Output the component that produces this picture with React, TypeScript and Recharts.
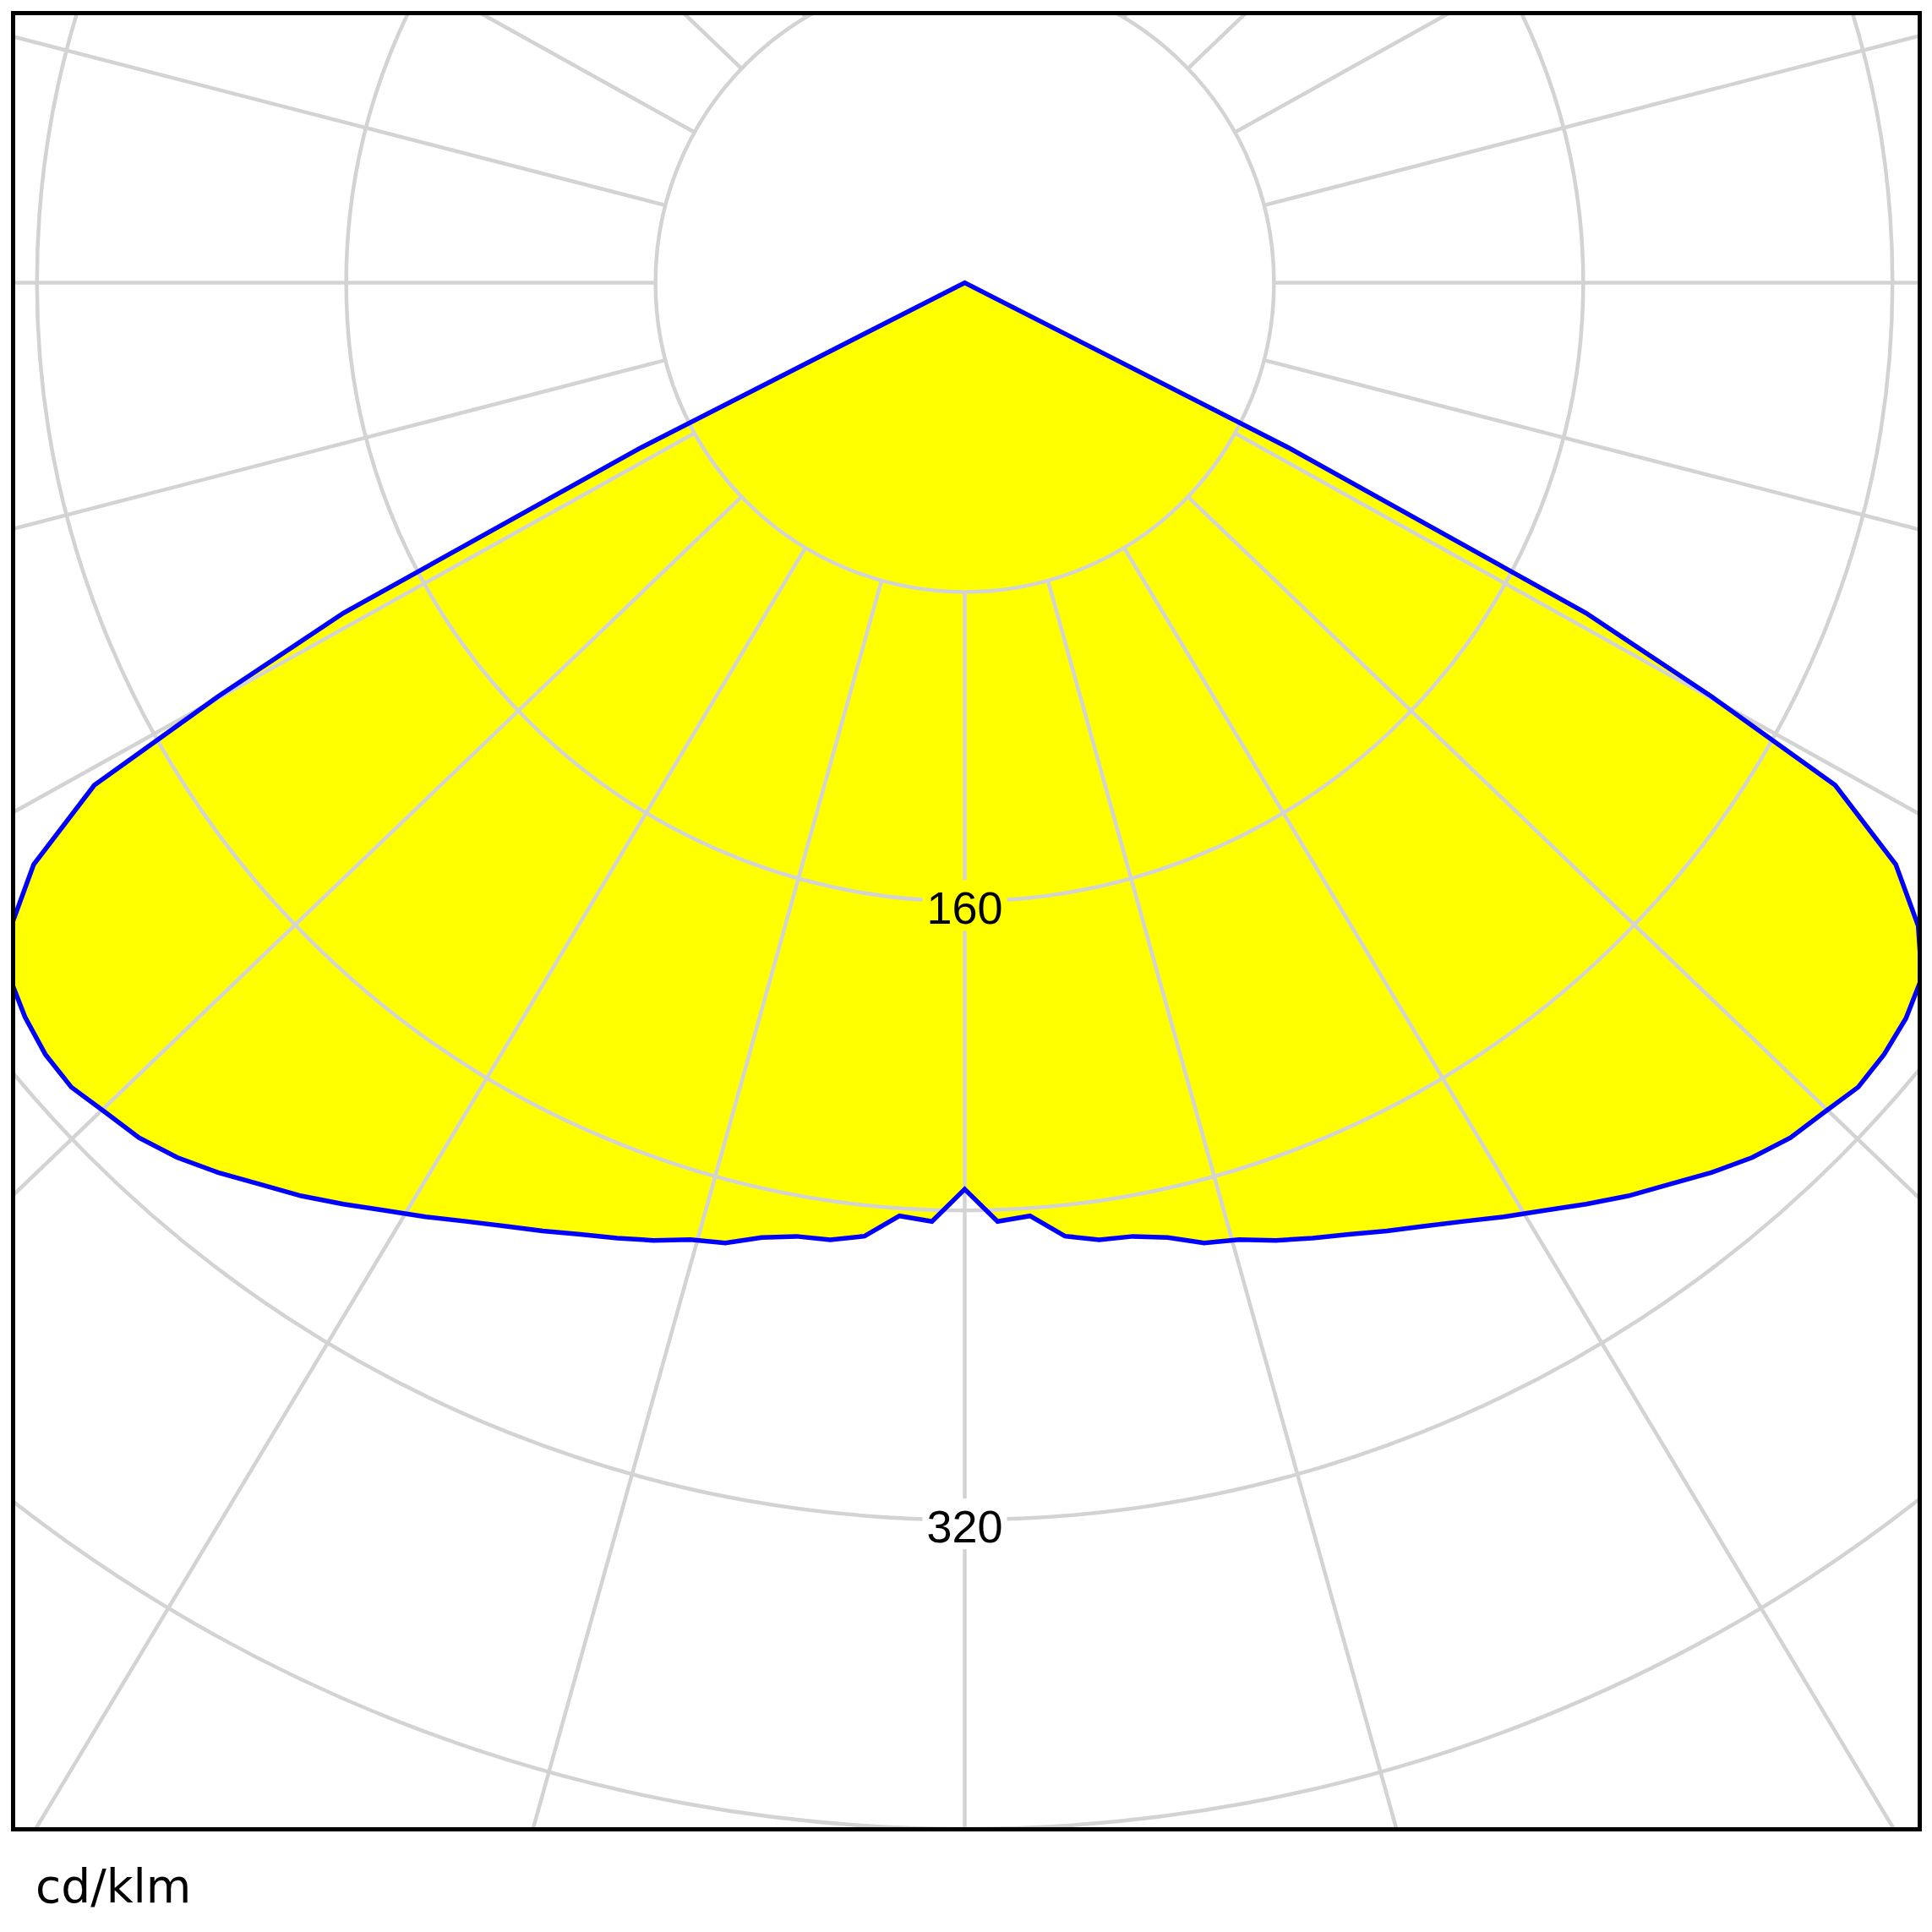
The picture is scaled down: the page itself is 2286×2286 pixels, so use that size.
import { RadarChart, Radar, PolarGrid, PolarAngleAxis, PolarRadiusAxis } from "recharts";

// gamma angles measured from nadir (deg)
const gammaAngles = [
  0, 2, 4, 6, 8, 10, 12, 14, 16, 18, 20, 22, 24, 26, 28, 30, 32, 34, 36, 38,
  40, 42, 44, 46, 48, 50, 52, 54, 56, 58, 60, 61, 62, 63, 64,
];
// C0 plane (right half), cd/klm
const c0Values = [
  234.5, 243, 242, 248, 250, 250.5, 252.5, 256, 257.5, 260.5, 263, 265.5, 268.5,
  271.5, 275, 279, 283, 287.5, 292, 296, 300.5, 304.5, 307.5, 309, 311, 310.5,
  309, 306, 297.5, 284, 260, 221, 182, 94, 0,
];
// C180 plane (left half), cd/klm
const c180Values = [
  234.5, 243, 242, 248, 250, 250.5, 252.5, 256, 257.5, 260.5, 263, 265.5, 268.5,
  271.5, 275, 279, 283, 287.5, 292, 296, 300.5, 304.5, 307.5, 309, 311, 310.5,
  308.5, 305.5, 297.5, 284, 260, 221, 182, 94, 0,
];
// grid spokes as drawn in the original (slightly off the nominal 15 deg steps)
const spokeAngles = [
  0, 15.6, 31, 46.2, 60.9, 75.5, 90, 104.5, 119.1, 133.8, 149, 164.4,
  180, 195.6, 211, 226.2, 240.9, 255.5, 270, 284.5, 299.1, 313.8, 329, 344.4,
];
const ringValues = [80, 160, 240, 320, 400, 480];
const labelValues = [160, 320];
const unitLabel = "cd/klm";

const rows = [
  ...gammaAngles.map((g, i) => ({ angle: g, value: c0Values[i] })),
  ...gammaAngles
    .map((g, i) => ({ angle: 360 - g, value: c180Values[i] }))
    .filter((r) => r.angle < 360)
    .reverse(),
];

const W = 2261;
const H = 2154;
const CX = 1128.5;
const CY = 321.5;
const PX_PER_UNIT = 4.574;
const OUTER = ringValues[ringValues.length - 1] * PX_PER_UNIT;
const INNER = ringValues[0] * PX_PER_UNIT;

const GRID = "#d3d3d3";
const polar = {
  width: W,
  height: H,
  cx: CX,
  cy: CY,
  startAngle: -90,
  endAngle: 270,
  outerRadius: OUTER,
  margin: { top: 0, right: 0, bottom: 0, left: 0 },
  data: rows,
};

const RingLabel = (props: any) => {
  const { x, y, payload } = props;
  if (!labelValues.includes(payload.value)) return <g />;
  const bg = payload.value < c0Values[0] ? "#ffff00" : "#ffffff";
  return (
    <g>
      <rect x={x - 50} y={y - 25} width={100} height={60} fill={bg} />
      <text
        x={x}
        y={y + 27}
        textAnchor="middle"
        fontFamily="Liberation Sans, Arial, sans-serif"
        fontSize={54}
        fill="#000"
      >
        {payload.value}
      </text>
    </g>
  );
};

const layer = { position: "absolute" as const, left: 0, top: 0 };

export default function App() {
  return (
    <div style={{ position: "absolute", left: 0, top: 0, width: 2286, height: 2286, background: "#fff" }}>
      <div style={{ position: "absolute", left: 13, top: 13, width: W, height: H, overflow: "hidden" }}>
        {/* fill */}
        <div style={layer}>
          <RadarChart {...polar}>
            <PolarAngleAxis type="number" dataKey="angle" domain={[0, 360]} tick={false} axisLine={false} />
            <PolarRadiusAxis domain={[0, 480]} tick={false} axisLine={false} />
            <Radar dataKey="value" fill="#ffff00" fillOpacity={1} stroke="none" dot={false} isAnimationActive={false} />
          </RadarChart>
        </div>
        {/* grid, spokes start at the first ring */}
        <div style={layer}>
          <RadarChart {...polar} innerRadius={INNER}>
            <PolarGrid gridType="circle" stroke={GRID} strokeWidth={4.5} />
            <PolarAngleAxis
              type="number"
              dataKey="angle"
              domain={[0, 360]}
              ticks={spokeAngles}
              tickCount={25}
              tick={false}
              axisLine={false}
            />
            <PolarRadiusAxis
              domain={[80, 480]}
              allowDataOverflow
              ticks={ringValues}
              tickCount={6}
              tick={false}
              axisLine={false}
            />
            <Radar dataKey="value" fill="none" fillOpacity={0} stroke="none" dot={false} isAnimationActive={false} />
          </RadarChart>
        </div>
        {/* outline + labels */}
        <div style={layer}>
          <RadarChart {...polar}>
            <PolarAngleAxis type="number" dataKey="angle" domain={[0, 360]} tick={false} axisLine={false} />
            <Radar
              dataKey="value"
              fill="none"
              stroke="#0000ff"
              strokeWidth={5.5}
              dot={false}
              isAnimationActive={false}
            />
            <PolarRadiusAxis
              angle={-90}
              domain={[0, 480]}
              tickCount={7}
              tick={<RingLabel />}
              axisLine={false}
            />
          </RadarChart>
        </div>
      </div>
      <div
        style={{
          position: "absolute",
          left: 13,
          top: 13,
          width: W,
          height: H,
          border: "5.5px solid #000",
          boxSizing: "border-box",
        }}
      />
      <div
        style={{
          position: "absolute",
          left: 42,
          top: 2205,
          fontFamily: "DejaVu Sans, sans-serif",
          fontSize: 55,
          lineHeight: "55px",
          color: "#000",
          whiteSpace: "nowrap",
        }}
      >
        {unitLabel}
      </div>
    </div>
  );
}
